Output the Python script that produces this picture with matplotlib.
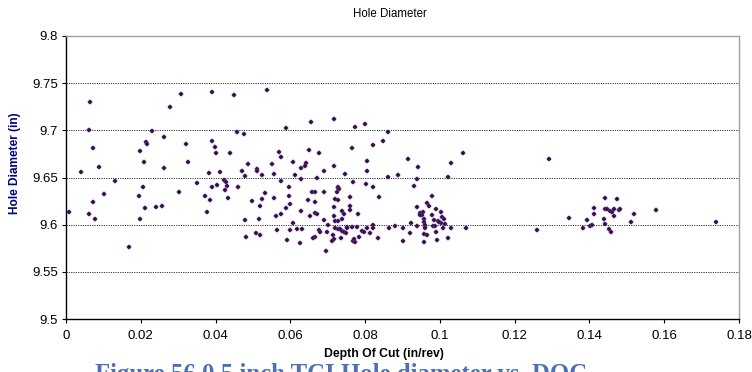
import matplotlib
matplotlib.use("Agg")
import matplotlib.pyplot as plt

depth_of_cut = [
    0.0065, 0.0061, 0.0073, 0.0087, 0.0039, 0.0132, 0.0206, 0.0308, 0.0279, 0.0231,
    0.0214, 0.0216, 0.0198, 0.0208, 0.0262, 0.0322, 0.0262, 0.0327, 0.0391, 0.0391,
    0.0399, 0.0401, 0.0382, 0.0411, 0.0350, 0.0390, 0.0423, 0.0427, 0.0430, 0.0439,
    0.0101, 0.0071, 0.0009, 0.0061, 0.0078, 0.0196, 0.0212, 0.0198, 0.0169, 0.0241,
    0.0256, 0.0302, 0.0372, 0.0386, 0.0378, 0.0404, 0.0426, 0.0432,
    0.0449, 0.0538, 0.0588, 0.0656, 0.0716, 0.0772, 0.0800, 0.0458, 0.0477, 0.0570,
    0.0575, 0.0649, 0.0676, 0.0765, 0.0821, 0.0486, 0.0552, 0.0608, 0.0641, 0.0638,
    0.0629, 0.0805, 0.0805, 0.0471, 0.0511, 0.0511, 0.0479, 0.0525, 0.0557, 0.0612,
    0.0689, 0.0716, 0.0745, 0.0629, 0.0672, 0.0575, 0.0768, 0.0802, 0.0822, 0.0461,
    0.0596, 0.0728,
    0.0531, 0.0556, 0.0498, 0.0525, 0.0519, 0.0596, 0.0598, 0.0588, 0.0575, 0.0562,
    0.0515, 0.0479, 0.0509, 0.0520, 0.0482, 0.0565, 0.0590, 0.0606, 0.0598, 0.0618,
    0.0631, 0.0625, 0.0629, 0.0648, 0.0658, 0.0667, 0.0666, 0.0689, 0.0653, 0.0666,
    0.0672, 0.0691, 0.0676, 0.0680, 0.0665, 0.0661, 0.0695, 0.0701, 0.0699, 0.0714,
    0.0717, 0.0712, 0.0727, 0.0730, 0.0725, 0.0719, 0.0727, 0.0717, 0.0716, 0.0720,
    0.0727, 0.0719, 0.0727, 0.0739, 0.0744, 0.0738, 0.0733, 0.0739, 0.0744, 0.0736,
    0.0759, 0.0759, 0.0759, 0.0752, 0.0751, 0.0749, 0.0764, 0.0768, 0.0770, 0.0773,
    0.0778, 0.0782, 0.0784, 0.0792, 0.0796, 0.0806, 0.0814, 0.0820, 0.0821,
    0.0861, 0.0848, 0.0915, 0.0942, 0.1062, 0.1031, 0.0862, 0.0889, 0.0939, 0.0931,
    0.1022,
    0.0838, 0.0980, 0.0966, 0.0972, 0.0940, 0.0954, 0.0947, 0.0951, 0.0946, 0.0989,
    0.0980, 0.1002, 0.1006, 0.1011, 0.0996, 0.1002, 0.0998, 0.1014, 0.0985, 0.0958,
    0.0958, 0.0981, 0.0986, 0.1007, 0.0922, 0.0938, 0.0959, 0.0902, 0.0881, 0.0865,
    0.1031, 0.1071, 0.0921, 0.0990, 0.0958, 0.0966, 0.0835, 0.0902, 0.0957, 0.0991,
    0.1022, 0.0961, 0.0961,
    0.1293, 0.1261, 0.1344, 0.1382, 0.1394, 0.1401, 0.1406, 0.1413, 0.1413, 0.1440,
    0.1441, 0.1441, 0.1441, 0.1448, 0.1451, 0.1458, 0.1473, 0.1455, 0.1460, 0.1466,
    0.1466, 0.1479, 0.1482, 0.1510, 0.1520, 0.1578, 0.1739,
]

hole_diameter = [
    9.730, 9.700, 9.681, 9.661, 9.6555, 9.646, 9.640, 9.739, 9.725, 9.699,
    9.688, 9.685, 9.678, 9.666, 9.6926, 9.685, 9.6606, 9.6664, 9.7406, 9.6887,
    9.682, 9.6757, 9.6548, 9.6555, 9.6438, 9.6396, 9.6474, 9.6452, 9.641, 9.676,
    9.632, 9.6236, 9.6138, 9.611, 9.6057, 9.6304, 9.6177, 9.6057, 9.5763, 9.6187,
    9.6195, 9.6346, 9.6304, 9.6262, 9.613, 9.6424, 9.6367, 9.6286,
    9.7371, 9.743, 9.7025, 9.7085, 9.7117, 9.7032, 9.707, 9.6986, 9.6965, 9.677,
    9.6717, 9.6795, 9.6763, 9.6816, 9.6841, 9.664, 9.6646, 9.6664, 9.6657, 9.6619,
    9.660, 9.6678, 9.657, 9.6572, 9.6587, 9.657, 9.6513, 9.6523, 9.6537, 9.6523,
    9.657, 9.662, 9.6537, 9.6484, 9.6491, 9.6463, 9.6456, 9.6431, 9.6396, 9.6396,
    9.6396, 9.639,
    9.6332, 9.6286, 9.6254, 9.6269, 9.620, 9.630, 9.6222, 9.6177, 9.611, 9.6092,
    9.6063, 9.6053, 9.5912, 9.5887, 9.5869, 9.594, 9.5837, 9.6021, 9.594, 9.5954,
    9.5954, 9.5809, 9.6145, 9.6262, 9.6343, 9.635, 9.6244, 9.6346, 9.6092, 9.6127,
    9.6113, 9.605, 9.594, 9.5925, 9.5866, 9.5855, 9.572, 9.5993, 9.5922, 9.5887,
    9.5845, 9.583, 9.6396, 9.6378, 9.635, 9.6269, 9.6262, 9.6184, 9.6092, 9.6035,
    9.6035, 9.5968, 9.5954, 9.6145, 9.6116, 9.6063, 9.5957, 9.5936, 9.5922, 9.5862,
    9.6293, 9.620, 9.6155, 9.5978, 9.5961, 9.5909, 9.5978, 9.583, 9.585, 9.582,
    9.5972, 9.611, 9.5866, 9.5933, 9.5919, 9.5965, 9.5909, 9.5996, 9.5968,
    9.6979, 9.6884, 9.6693, 9.6608, 9.6763, 9.665, 9.6509, 9.6523, 9.6484, 9.641,
    9.6502,
    9.6293, 9.6307, 9.6226, 9.6198, 9.6184, 9.6138, 9.612, 9.6099, 9.6106, 9.617,
    9.6106, 9.6138, 9.6078, 9.6057, 9.6035, 9.602, 9.6028, 9.6004, 9.6046, 9.6057,
    9.6025, 9.5989, 9.5989, 9.5968, 9.602, 9.5989, 9.5989, 9.5968, 9.5986, 9.5968,
    9.5961, 9.5961, 9.5915, 9.5926, 9.5905, 9.5891, 9.5855, 9.5823, 9.5816, 9.5837,
    9.5862, 9.5993, 9.596,
    9.670, 9.594, 9.607, 9.5968, 9.6052, 9.5983, 9.5996, 9.6177, 9.6116, 9.6063,
    9.6007, 9.6286, 9.6163, 9.6163, 9.595, 9.5925, 9.6276, 9.6145, 9.6134, 9.6166,
    9.6092, 9.6152, 9.617, 9.6031, 9.6116, 9.6155, 9.6025,
]

x_ticks = [0, 0.02, 0.04, 0.06, 0.08, 0.1, 0.12, 0.14, 0.16, 0.18]
x_tick_labels = ["0", "0.02", "0.04", "0.06", "0.08", "0.1", "0.12", "0.14", "0.16", "0.18"]
y_ticks = [9.5, 9.55, 9.6, 9.65, 9.7, 9.75, 9.8]
y_tick_labels = ["9.5", "9.55", "9.6", "9.65", "9.7", "9.75", "9.8"]

plt.rcParams['font.family'] = ['Liberation Sans', 'DejaVu Sans']

fig = plt.figure(figsize=(7.52, 3.72), dpi=100)
ax = fig.add_axes([66/752, 1-319/372, (739-66)/752, (319-36)/372])

ax.set_xlim(0, 0.18)
ax.set_ylim(9.5, 9.8)
ax.set_xticks(x_ticks)
ax.set_xticklabels(x_tick_labels)
ax.set_yticks(y_ticks)
ax.set_yticklabels(y_tick_labels)

for yv in y_ticks[1:-1]:
    ax.axhline(yv, color='#333333', linestyle=(0, (1.2, 1.2)), linewidth=0.7, zorder=1)

ax.scatter(depth_of_cut, hole_diameter, marker='P', s=12, facecolor='#4a0530',
           edgecolor='#4848a8', linewidths=0.35, zorder=3)

ax.spines['left'].set_color('black')
ax.spines['bottom'].set_color('black')
ax.spines['left'].set_linewidth(1.0)
ax.spines['bottom'].set_linewidth(1.0)
ax.spines['top'].set_color('#a0a0a0')
ax.spines['right'].set_color('#a0a0a0')
ax.spines['top'].set_linewidth(1.0)
ax.spines['right'].set_linewidth(1.0)

ax.tick_params(axis='both', direction='out', length=3, width=0.8, labelsize=9.5, color='black')
ax.tick_params(axis='x', pad=5)
ax.tick_params(axis='y', pad=3)

fig.text(390/752, 1-14/372, "Hole Diameter", ha='center', va='center', fontsize=8.3, color='black')
fig.text(15/752, 1-163/372, "Hole Diameter (in)", ha='center', va='center', rotation=90,
         fontsize=8.6, fontweight='bold', color='#000080')
fig.text(384/752, 1-354/372, "Depth Of Cut (in/rev)", ha='center', va='center',
         fontsize=8.8, fontweight='bold', color='black')
fig.text(95/752, 1-375/372, "Figure 56 0.5 inch TCI Hole diameter vs. DOC", ha='left',
         va='center', fontsize=17.8, fontweight='bold', color='#4f6fb5',
         family=['Liberation Serif', 'DejaVu Serif'])

fig.savefig("out.png", dpi=100)
